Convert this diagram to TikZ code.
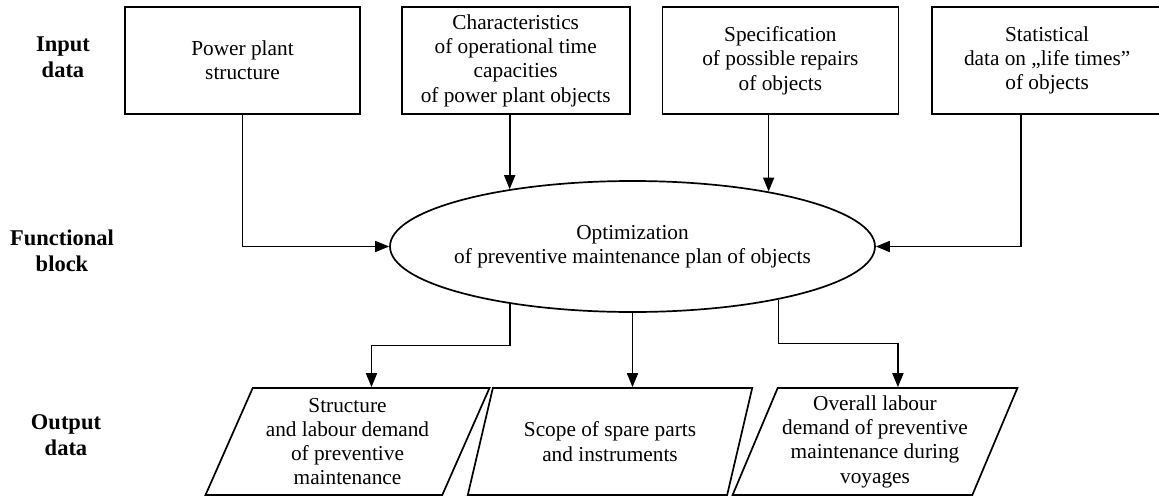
\documentclass[tikz,border=0pt]{standalone}
\usepackage{fontspec}
\setmainfont{Liberation Serif}
\usetikzlibrary{positioning,calc,shapes.geometric,arrows.meta}
\tikzset{
  inbox/.style={draw, rectangle, align=center, minimum width=#1, minimum height=107pt, inner sep=0pt, anchor=center},
  inbox/.default=235pt,
  funcbox/.style={draw, ellipse, align=center, minimum width=485pt, minimum height=131pt, inner ysep=0pt, inner xsep=-20pt},
  outbox/.style={draw, trapezium, trapezium left angle=65, trapezium right angle=115, trapezium stretches=true,
                 align=center, minimum width=285pt, minimum height=107pt, inner sep=0pt},
  rowlabel/.style={align=center, font=\fontsize{22.5}{26.5}\selectfont\bfseries},
  flow/.style={-{Triangle[length=14pt,width=11pt]}},
}

\begin{document}
\begin{tikzpicture}[x=1pt, y=-1pt, line width=1.7pt, font=\fontsize{21.3}{24.3}\selectfont]
  \useasboundingbox (0,0) rectangle (1159,498);
  \node[rowlabel] (lin) at (63,57) {Input\\data};
  \node[rowlabel] (lfun) at (62,251) {Functional\\block};
  \node[rowlabel] (lout) at (66,435) {Output\\data};

  \node[inbox] (in1) at (242.5,60.5) {Power plant\\structure};
  \node[inbox=228pt, right=40pt of in1.north east, anchor=north west] (in2) {Characteristics\\of operational time\\capacities\\of power plant objects};
  \node[inbox=236pt, right=31pt of in2.north east, anchor=north west] (in3) {Specification\\of possible repairs\\of objects};
  \node[inbox=230pt, right=32pt of in3.north east, anchor=north west] (in4) {Statistical\\data on „life times”\\of objects};

  \node[funcbox] (opt) at (632.5,246.5) {Optimization\\of preventive maintenance plan of objects};

  \node[outbox] (o1) at (347.5,441.5) {Structure\\and labour demand\\of preventive\\maintenance};
  \node[outbox] (o2) at (610,441.5) {Scope of spare parts\\and instruments};
  \node[outbox] (o3) at (875,441.5) {Overall labour\\demand of preventive\\maintenance during\\voyages};

  \draw[flow] (in1.south) |- (opt.west);
  \draw[flow] (opt.155 |- in2.south) -- (opt.155);
  \draw[flow] (opt.22 |- in3.south) -- (opt.22);
  \draw[flow] ([xshift=-26pt]in4.south) |- (opt.east);
  \draw[flow] (opt.205) |- ($(opt.205)!.5!(o1.top side)$) -| (o1.top side);
  \draw[flow] (opt.south) -- (opt.south |- o2.top side);
  \draw[flow] (opt.340) |- ($(opt.340)!.5!(o3.top side)$) -| (o3.top side);
\end{tikzpicture}
\end{document}
